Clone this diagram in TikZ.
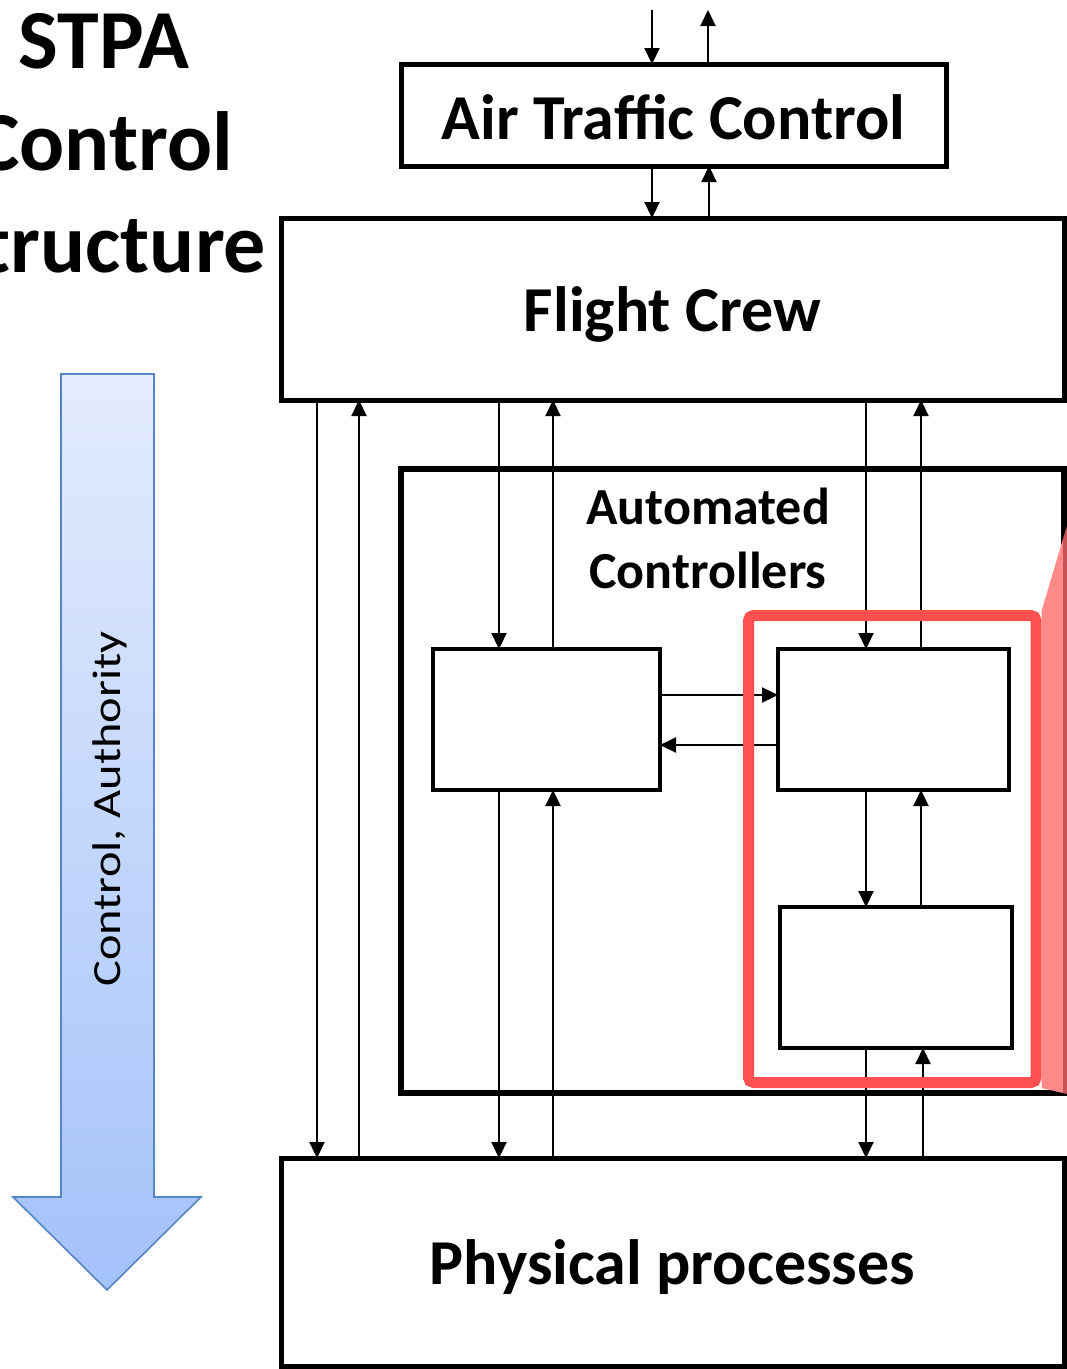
\documentclass[tikz,border=0pt]{standalone}
\usepackage{fontspec}
\setmainfont{Carlito}
\usetikzlibrary{arrows.meta,calc}
\definecolor{redc}{HTML}{FF5050}
\definecolor{pinkc}{HTML}{FF8A8A}
\definecolor{darkredc}{HTML}{C65353}
\definecolor{bluetop}{HTML}{E4ECFD}
\definecolor{bluebot}{HTML}{A3C2FA}
\definecolor{blueedge}{HTML}{5585C5}
\newcommand{\lowtext}[2]{\raisebox{-#1}[\height][\depth]{#2}}
\begin{document}
\begin{tikzpicture}[x=1pt,y=-1pt,
  box/.style={draw, line width=5pt, inner sep=0pt, outer sep=0pt, font=\fontsize{64}{75}\selectfont\bfseries},
  sbox/.style={draw, line width=4pt, inner sep=0pt, outer sep=0pt},
  conn/.style={line width=2.2pt, -{Triangle[length=16pt,width=15pt]}},
]
\useasboundingbox (0,0) rectangle (1067,1369);
\clip (0,0) rectangle (1067,1369);

% title
\node[font=\fontsize{84}{102}\selectfont\bfseries, align=center, inner sep=0pt] (title) at (104,143) {STPA\\Control\\Structure};

% blue arrow
\path[draw=blueedge, line width=1.6pt, top color=bluetop, bottom color=bluebot, line join=miter]
  (61,374) -- (154,374) -- (154,1197) -- (201,1197) -- (107,1290) -- (13,1197) -- (61,1197) -- cycle;
\node[rotate=90, font=\fontsize{40}{48}\selectfont, inner sep=0pt] (lbl) at (110,809) {\scalebox{1.21}[1]{Control, Authority}};

% boxes
\node[box, minimum width=545pt, minimum height=102pt] (atc) at (673.5,115) {\lowtext{2pt}{Air Traffic Control}};
\node[box, minimum width=783pt, minimum height=182pt] (fc) at (672.5,309) {\lowtext{5pt}{Flight Crew}};
\node[box, minimum width=783pt, minimum height=208pt] (pp) at (672.5,1262) {\lowtext{5pt}{Physical processes}};
\node[draw, line width=6pt, inner sep=0pt, outer sep=0pt, minimum width=663pt, minimum height=624pt] (auto) at (732.5,781) {};
\node[font=\fontsize{52}{64}\selectfont\bfseries, align=center, inner sep=0pt] (autolbl) at (708,538) {Automated\\Controllers};
\node[sbox, minimum width=227pt, minimum height=141pt] (l) at (546.5,719.5) {};
\node[sbox, minimum width=231pt, minimum height=141pt] (ur) at (893.5,719.5) {};
\node[sbox, minimum width=232pt, minimum height=141pt] (lr) at (896,977.5) {};

% reference coordinates
\coordinate (in1) at (652,10);
\coordinate (out1) at (708,10);
\coordinate (c709) at (709,0);
\coordinate (c317) at (317,0);
\coordinate (c359) at (359,0);
\coordinate (c499) at (499,0);
\coordinate (c553) at (553,0);
\coordinate (c866) at (866,0);
\coordinate (c921) at (921,0);
\coordinate (c923) at (923,0);
\coordinate (y695) at (0,695);
\coordinate (y745) at (0,745);

% connectors
\draw[conn] (in1) -- (atc.north -| in1);
\draw[conn] (atc.north -| out1) -- (out1);
\draw[conn] (atc.south -| in1) -- (fc.north -| in1);
\draw[conn] (fc.north -| c709) -- (atc.south -| c709);

\draw[conn] (fc.south -| c317) -- (pp.north -| c317);
\draw[conn] (pp.north -| c359) -- (fc.south -| c359);
\draw[conn] (fc.south -| c499) -- (l.north -| c499);
\draw[conn] (l.north -| c553) -- (fc.south -| c553);
\draw[conn] (fc.south -| c866) -- (ur.north -| c866);
\draw[conn] (ur.north -| c921) -- (fc.south -| c921);

\draw[conn] (l.south -| c499) -- (pp.north -| c499);
\draw[conn] (pp.north -| c553) -- (l.south -| c553);
\draw[conn] (ur.south -| c866) -- (lr.north -| c866);
\draw[conn] (lr.north -| c921) -- (ur.south -| c921);
\draw[conn] (lr.south -| c866) -- (pp.north -| c866);
\draw[conn] (pp.north -| c923) -- (lr.south -| c923);

\draw[conn] (l.east |- y695) -- (ur.west |- y695);
\draw[conn] (ur.west |- y745) -- (l.east |- y745);

% highlight
\node[draw=redc, line width=11pt, rounded corners=5pt, inner sep=0pt, outer sep=0pt, minimum width=287.5pt, minimum height=467pt] (hl) at (892.25,849) {};
\fill[pinkc] (1041.5,611) -- (1063,539) -- (1063,1093) -- (1041.5,1088) -- cycle;
\fill[darkredc] (1063,539) -- (1067,526) -- (1067,1094) -- (1063,1093) -- cycle;
\end{tikzpicture}
\end{document}
